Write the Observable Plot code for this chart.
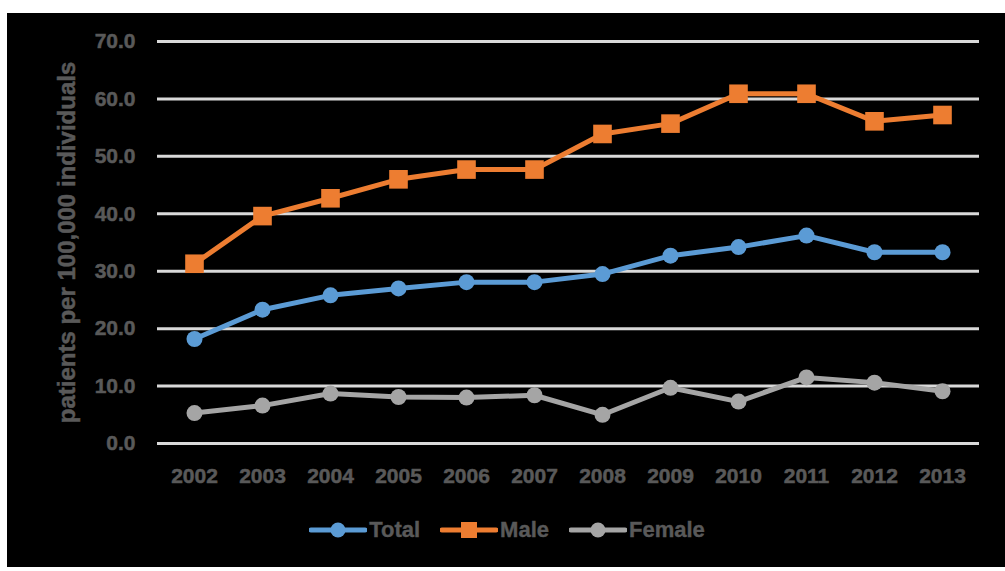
<!DOCTYPE html>
<html>
<head>
<meta charset="utf-8">
<script src="https://cdn.jsdelivr.net/npm/d3@7"></script>
<script src="https://cdn.jsdelivr.net/npm/@observablehq/plot@0.6"></script>
<style>
  html, body { margin: 0; padding: 0; background: #ffffff; }
  #panel {
    position: absolute; left: 7px; top: 13px; width: 998px; height: 554px;
    background: #000000; overflow: hidden;
    font-family: "Liberation Sans", Arial, sans-serif; font-weight: bold;
  }
  #chart { position: absolute; left: 0; top: 0; }
  #chart text { stroke: #595959; stroke-width: 0.5px; }
  #legend {
    position: absolute; left: 0; top: 504px; width: 998px; padding-left: 2px; box-sizing: border-box;
    display: flex; justify-content: center; align-items: center; gap: 20px;
    color: #595959; font-size: 22px; -webkit-text-stroke: 0.4px #595959;
  }
  .item { display: flex; align-items: center; gap: 2px; }
  .item svg { display: block; }
</style>
</head>
<body>
<div id="panel">
  <div id="chart"></div>
  <div id="legend"></div>
</div>
<script>
// Patients per 100,000 individuals, by year
const years = [2002, 2003, 2004, 2005, 2006, 2007, 2008, 2009, 2010, 2011, 2012, 2013];
const total  = [18.2, 23.3, 25.8, 27.0, 28.1, 28.1, 29.5, 32.7, 34.2, 36.2, 33.3, 33.3];
const male   = [31.3, 39.6, 42.7, 46.0, 47.7, 47.7, 53.9, 55.7, 60.9, 60.9, 56.1, 57.2];
const female = [5.3, 6.6, 8.7, 8.1, 8.0, 8.4, 5.0, 9.7, 7.3, 11.5, 10.6, 9.1];
const yTicks = [0, 10, 20, 30, 40, 50, 60, 70];

const seriesNames = ["Total", "Male", "Female"];
const seriesColors = ["#5B9BD5", "#ED7D31", "#A5A5A5"];
const seriesSymbols = ["circle", "square", "circle"];
const seriesValues = [total, male, female];

const rows = seriesNames.flatMap((name, i) =>
  years.map((year, j) => ({series: name, year: String(year), value: seriesValues[i][j]}))
);

const textColor = "#595959";
const W = 998, H = 554;

const marks = [
  Plot.ruleY(yTicks, {stroke: "#d9d9d9", strokeWidth: 3}),
  Plot.axisY({
    ticks: yTicks, tickSize: 0, tickPadding: 22, label: null,
    tickFormat: d => d.toFixed(1), fill: textColor, fontSize: 21, fontWeight: "bold"
  }),
  Plot.axisX({
    tickSize: 0, tickPadding: 25, label: null,
    fill: textColor, fontSize: 21, fontWeight: "bold"
  }),
  Plot.text(["patients per 100,000 individuals"], {
    frameAnchor: "left", dx: -90, rotate: -90, textAnchor: "middle",
    fill: textColor, fontSize: 24, fontWeight: "bold"
  })
];

seriesNames.forEach((name, i) => {
  const data = rows.filter(d => d.series === name);
  marks.push(Plot.line(data, {x: "year", y: "value", stroke: seriesColors[i], strokeWidth: 5}));
  marks.push(Plot.dot(data, {
    x: "year", y: "value", fill: seriesColors[i], stroke: "none",
    symbol: seriesSymbols[i], r: seriesSymbols[i] === "square" ? 10.5 : 8
  }));
});

const chart = Plot.plot({
  width: W, height: H,
  marginLeft: 150, marginRight: 26, marginTop: 28, marginBottom: H - 430,
  style: {background: "#000000", fontFamily: "'Liberation Sans', Arial, sans-serif"},
  x: {type: "point", domain: years.map(String), padding: 0.5},
  y: {domain: [0, 70]},
  marks
});
document.getElementById("chart").append(chart);

// Legend: line-and-marker swatches followed by the series name
const legend = document.getElementById("legend");
seriesNames.forEach((name, i) => {
  const item = document.createElement("div");
  item.className = "item";
  const ns = "http://www.w3.org/2000/svg";
  const sw = document.createElementNS(ns, "svg");
  sw.setAttribute("width", 58); sw.setAttribute("height", 22);
  const ln = document.createElementNS(ns, "line");
  ln.setAttribute("x1", 2); ln.setAttribute("x2", 56); ln.setAttribute("y1", 11); ln.setAttribute("y2", 11);
  ln.setAttribute("stroke", seriesColors[i]); ln.setAttribute("stroke-width", 5);
  ln.setAttribute("stroke-linecap", "round");
  sw.append(ln);
  let m;
  if (seriesSymbols[i] === "square") {
    m = document.createElementNS(ns, "rect");
    m.setAttribute("x", 21); m.setAttribute("y", 3); m.setAttribute("width", 16); m.setAttribute("height", 16);
  } else {
    m = document.createElementNS(ns, "circle");
    m.setAttribute("cx", 29); m.setAttribute("cy", 11); m.setAttribute("r", 7.5);
  }
  m.setAttribute("fill", seriesColors[i]);
  sw.append(m);
  const label = document.createElement("span");
  label.textContent = name;
  item.append(sw, label);
  legend.append(item);
});
</script>
</body>
</html>
